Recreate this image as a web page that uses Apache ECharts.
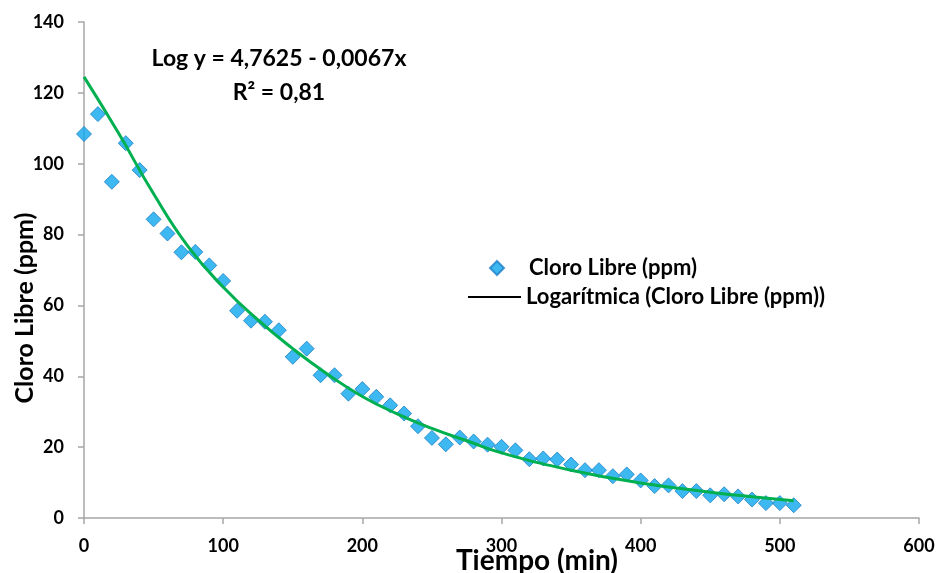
<!DOCTYPE html>
<html>
<head>
<meta charset="utf-8">
<script src="https://cdn.jsdelivr.net/npm/echarts@6/dist/echarts.min.js"></script>
<style>
  html, body { margin: 0; padding: 0; background: #fff; }
  #chart { width: 938px; height: 573px; }
</style>
</head>
<body>
<div id="chart"></div>
<script>
// mediciones: tiempo (min) y cloro libre (ppm)
var tiempo = [0, 10, 20, 30, 40, 50, 60, 70, 80, 90,
  100, 110, 120, 130, 140, 150, 160, 170, 180, 190,
  200, 210, 220, 230, 240, 250, 260, 270, 280, 290,
  300, 310, 320, 330, 340, 350, 360, 370, 380, 390,
  400, 410, 420, 430, 440, 450, 460, 470, 480, 490,
  500, 510];
var cloroLibre = [108.4, 114.0, 94.9, 105.8, 98.2, 84.3, 80.3, 75.0, 75.1, 71.3,
  66.9, 58.5, 55.7, 55.4, 53.0, 45.5, 47.8, 40.3, 40.3, 35.1,
  36.4, 34.2, 31.8, 29.5, 25.9, 22.6, 20.8, 22.7, 21.6, 20.7,
  20.1, 19.1, 16.6, 16.8, 16.5, 15.1, 13.5, 13.5, 11.8, 12.3,
  10.6, 9.0, 9.2, 7.6, 7.6, 6.4, 6.7, 6.1, 5.2, 4.2,
  4.2, 3.6];

// linea de tendencia
var tendX = [0, 25, 50, 75, 100, 125, 150, 175, 200, 225, 250, 275, 300, 350, 400, 450, 480, 510];
var tendY = [124.5, 108.5, 91.5, 76.5, 65.2, 55.9, 47.8, 40.6, 34.3, 29.4, 25.3, 21.8, 18.4, 13.5, 9.9, 7.3, 6.0, 4.9];

var xTicks = [0, 100, 200, 300, 400, 500, 600];
var yTicks = [0, 20, 40, 60, 80, 100, 120, 140];

var FONT = 'Lato';
var nombreSerie = 'Cloro Libre (ppm)';
var nombreTend = 'Logarítmica (Cloro Libre (ppm))';

function pares(xs, ys) {
  var out = [];
  for (var i = 0; i < xs.length; i++) out.push([xs[i], ys[i]]);
  return out;
}

var ejeComun = {
  axisLine: { show: true, lineStyle: { color: '#a6a6a6', width: 1.5 } },
  axisTick: { show: true, inside: false, length: 6, lineStyle: { color: '#a6a6a6', width: 1.5 } },
  splitLine: { show: false }
};

var option = {
  backgroundColor: '#fff',
  animation: false,
  grid: { left: 84, right: 19, top: 22, bottom: 55, containLabel: false },
  xAxis: Object.assign({
    type: 'value',
    min: xTicks[0],
    max: xTicks[xTicks.length - 1],
    interval: 100,
    axisLabel: { margin: 19, color: '#000', fontFamily: FONT, fontWeight: 'bold', fontSize: 18 }
  }, ejeComun),
  yAxis: Object.assign({
    type: 'value',
    min: yTicks[0],
    max: yTicks[yTicks.length - 1],
    interval: 20,
    axisLabel: { margin: 20, color: '#000', fontFamily: FONT, fontWeight: 'bold', fontSize: 18 }
  }, ejeComun),
  legend: [
    {
      data: [{ name: nombreSerie, icon: 'diamond' }],
      left: 489, top: 257, padding: 0,
      itemWidth: 14, itemHeight: 14,
      textStyle: { color: '#000', fontFamily: FONT, fontWeight: 'bold', fontSize: 22, padding: [0, 0, 0, 20] }
    },
    {
      data: [{ name: nombreTend, icon: 'rect', itemStyle: { color: '#000' } }],
      left: 468, top: 286, padding: 0,
      itemWidth: 53, itemHeight: 2,
      textStyle: { color: '#000', fontFamily: FONT, fontWeight: 'bold', fontSize: 22 }
    }
  ],
  graphic: [
    {
      type: 'text',
      style: {
        text: 'Log y = 4,7625 - 0,0067x', x: 279, y: 59,
        textAlign: 'center', textVerticalAlign: 'middle',
        font: 'bold 23px ' + FONT, fill: '#000'
      }
    },
    {
      type: 'text',
      style: {
        text: 'R² = 0,81', x: 279, y: 93,
        textAlign: 'center', textVerticalAlign: 'middle',
        font: 'bold 23px ' + FONT, fill: '#000'
      }
    },
    {
      type: 'text', x: 25, y: 308, rotation: Math.PI / 2,
      style: {
        text: 'Cloro Libre (ppm)', x: 0, y: 0,
        textAlign: 'center', textVerticalAlign: 'middle',
        font: 'bold 25px ' + FONT, fill: '#000'
      }
    },
    {
      type: 'text',
      style: {
        text: 'Tiempo (min)', x: 537, y: 561,
        textAlign: 'center', textVerticalAlign: 'middle',
        font: 'bold 28px ' + FONT, fill: '#000'
      }
    }
  ],
  series: [
    {
      name: nombreSerie,
      type: 'scatter',
      data: pares(tiempo, cloroLibre),
      symbol: 'diamond',
      symbolSize: 15,
      itemStyle: { color: '#0ea6ee', borderColor: '#1b7fc6', borderWidth: 1 },
      z: 3
    },
    {
      name: nombreTend,
      type: 'line',
      data: pares(tendX, tendY),
      smooth: true,
      showSymbol: false,
      symbol: 'none',
      lineStyle: { color: '#00b050', width: 3 },
      itemStyle: { color: '#000' },
      z: 4
    }
  ]
};

var chart = echarts.init(document.getElementById('chart'));
chart.setOption(option);
</script>
</body>
</html>
